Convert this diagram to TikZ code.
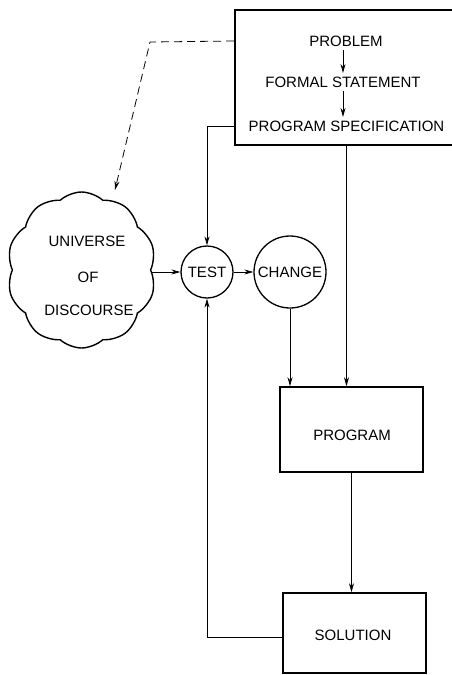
\documentclass[tikz,border=0pt]{standalone}
\usepackage{fontspec}
\setmainfont{Liberation Sans}
\usetikzlibrary{arrows.meta,shapes.symbols}
\begin{document}
\begin{tikzpicture}[x=1pt,y=-1pt,
  font=\fontsize{15}{18}\selectfont,
  box/.style={draw,line width=1.6pt,rectangle,inner sep=0pt},
  circ/.style={draw,line width=1.3pt,circle,inner sep=0pt},
  lbl/.style={inner sep=3.5pt},
  conn/.style={line width=0.8pt,-{Stealth[length=9pt,width=5pt]}},
  dashconn/.style={conn,dash pattern=on 8pt off 5pt}]
\useasboundingbox (0,0) rectangle (451,675);
% top box
\node[box,minimum width=223pt,minimum height=135pt] (top) at (346.5,77.5) {};
\node[lbl] (p1) at (346,41) {PROBLEM};
\node[lbl] (p2) at (343,82) {FORMAL STATEMENT};
\node[lbl] (p3) at (346.5,126) {PROGRAM SPECIFICATION};
\draw[conn] (p1.south -| 343,0) -- (p2.north -| 343,0);
\draw[conn] (p2.south -| 343,0) -- (p3.north -| 343,0);
% cloud
\node[cloud,draw,line width=1.4pt,cloud puffs=10,cloud puff arc=85,
  shape border rotate=12,
  cloud ignores aspect,minimum width=149pt,minimum height=156pt,inner sep=0pt]
  (U) at (81.5,270) {};
\node (u1) at (87,241) {UNIVERSE};
\node (u2) at (88,277) {OF};
\node (u3) at (89,310) {DISCOURSE};
\coordinate (dashend) at (115,190);
% circles
\node[circ,minimum size=52pt] (T) at (207,272) {TEST};
\node[circ,minimum size=72pt] (C) at (290,272) {CHANGE};
% program and solution
\node[box,minimum width=143pt,minimum height=85pt] (prog) at (351.5,429.5) {};
\node (progt) at (352,435) {PROGRAM};
\node[box,minimum width=143pt,minimum height=80pt] (sol) at (354.5,633) {};
\node (solt) at (353,635) {SOLUTION};
% connectors
\draw[dashconn] (top.west |- p1) -- (150,42) -- (dashend);
\draw[conn] (top.west |- p3) -| (T.north);
\draw[conn] (U.east |- T) -- (T.west);
\draw[conn] (T.east) -- (C.west);
\draw[conn] (C.south) -- (C.south |- prog.north);
\draw[conn] (top.south) -- (top.south |- prog.north);
\draw[conn] (prog.south) -- (prog.south |- sol.north);
\draw[conn] ([yshift=-4pt]sol.west) -| (T.south);
\end{tikzpicture}
\end{document}
